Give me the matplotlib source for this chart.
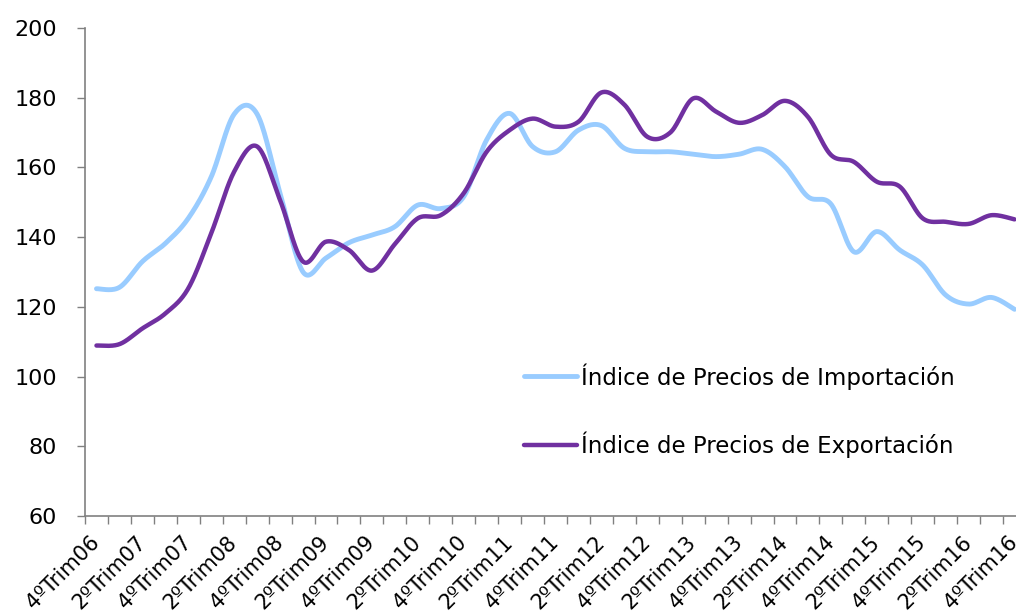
import numpy as np
import matplotlib
matplotlib.use('Agg')
import matplotlib.pyplot as plt

plt.rcParams['font.family'] = ['DejaVu Sans']

# ==================== datos ====================
trimestres = ['4ºTrim06', '1ºTrim07', '2ºTrim07', '3ºTrim07', '4ºTrim07',
              '1ºTrim08', '2ºTrim08', '3ºTrim08', '4ºTrim08',
              '1ºTrim09', '2ºTrim09', '3ºTrim09', '4ºTrim09',
              '1ºTrim10', '2ºTrim10', '3ºTrim10', '4ºTrim10',
              '1ºTrim11', '2ºTrim11', '3ºTrim11', '4ºTrim11',
              '1ºTrim12', '2ºTrim12', '3ºTrim12', '4ºTrim12',
              '1ºTrim13', '2ºTrim13', '3ºTrim13', '4ºTrim13',
              '1ºTrim14', '2ºTrim14', '3ºTrim14', '4ºTrim14',
              '1ºTrim15', '2ºTrim15', '3ºTrim15', '4ºTrim15',
              '1ºTrim16', '2ºTrim16', '3ºTrim16', '4ºTrim16']

importacion = [125.2, 125.6, 133.0, 138.2, 145.4, 157.3, 175.3, 175.3, 152.6,
               130.0, 134.0, 138.4, 140.6, 143.0, 149.2, 148.2, 151.6,
               167.9, 175.5, 166.0, 164.5, 170.7, 172.0, 165.5, 164.5,
               164.5, 163.8, 163.1, 163.8, 165.2, 160.2, 151.6, 149.5,
               135.8, 141.6, 136.3, 132.0, 123.4, 120.8, 122.7, 119.3]

exportacion = [108.9, 109.3, 113.8, 118.1, 125.3, 141.1, 158.8, 166.0, 150.6,
               133.0, 138.7, 136.3, 130.4, 138.0, 145.4, 146.3, 152.6,
               164.5, 170.7, 174.0, 171.7, 173.1, 181.5, 178.0, 168.8,
               170.0, 179.8, 176.0, 172.8, 175.0, 179.1, 174.5, 163.6,
               161.6, 155.9, 154.5, 145.4, 144.4, 143.8, 146.3, 145.1]

etiquetas = [t if i % 2 == 0 else '' for i, t in enumerate(trimestres)]


# curva suavizada tipo Excel (Bezier con tangentes Catmull-Rom)
def suavizar(y, n=30):
    y = np.asarray(y, dtype=float)
    x = np.arange(len(y), dtype=float)
    xs, ys = [], []
    for i in range(len(y) - 1):
        p0 = np.array([x[i], y[i]])
        p3 = np.array([x[i + 1], y[i + 1]])
        a = np.array([x[max(i - 1, 0)], y[max(i - 1, 0)]])
        b = np.array([x[min(i + 2, len(y) - 1)], y[min(i + 2, len(y) - 1)]])
        p1 = p0 + (p3 - a) / 6
        p2 = p3 - (b - p0) / 6
        t = np.linspace(0, 1, n)[:, None]
        pts = ((1 - t) ** 3) * p0 + 3 * ((1 - t) ** 2) * t * p1 + 3 * (1 - t) * t ** 2 * p2 + t ** 3 * p3
        xs.append(pts[:, 0])
        ys.append(pts[:, 1])
    return np.concatenate(xs), np.concatenate(ys)


fig = plt.figure(figsize=(10.16, 6.16), dpi=100)
ax = fig.add_axes([85 / 1016, 100 / 616, 941 / 1016, 488 / 616])

xi, yi = suavizar(importacion)
xe, ye = suavizar(exportacion)
ax.plot(xi, yi, color='#99CCFF', lw=3.5, solid_capstyle='round',
        label='Índice de Precios de Importación')
ax.plot(xe, ye, color='#7030A0', lw=3.2, solid_capstyle='round',
        label='Índice de Precios de Exportación')

ax.set_xlim(-0.5, len(trimestres) - 0.5)
ax.set_ylim(60, 200)
ax.set_yticks(range(60, 201, 20))

ax.set_xticks(np.arange(len(trimestres)))
ax.set_xticklabels(etiquetas, rotation=45, ha='right', va='center',
                   rotation_mode='anchor', fontsize=15)
ax.tick_params(axis='x', length=0, pad=17)
ax.set_xticks(np.arange(-0.5, len(trimestres)), minor=True)
ax.tick_params(axis='x', which='minor', length=6, width=1, color='#808080', direction='out')
ax.tick_params(axis='y', length=6, width=1, color='#808080', direction='out',
               labelsize=16, pad=14)

for s in ['top', 'right']:
    ax.spines[s].set_visible(False)
for s in ['left', 'bottom']:
    ax.spines[s].set_color('#808080')
    ax.spines[s].set_linewidth(1.2)

ax.legend(loc='upper left', bbox_to_anchor=(524 / 1016, (616 - 363) / 616),
          bbox_transform=fig.transFigure, frameon=False, fontsize=16.5,
          handlelength=2.3, handletextpad=0.2, labelspacing=1.85, borderpad=0,
          borderaxespad=0)

fig.savefig('out.png', dpi=100)
